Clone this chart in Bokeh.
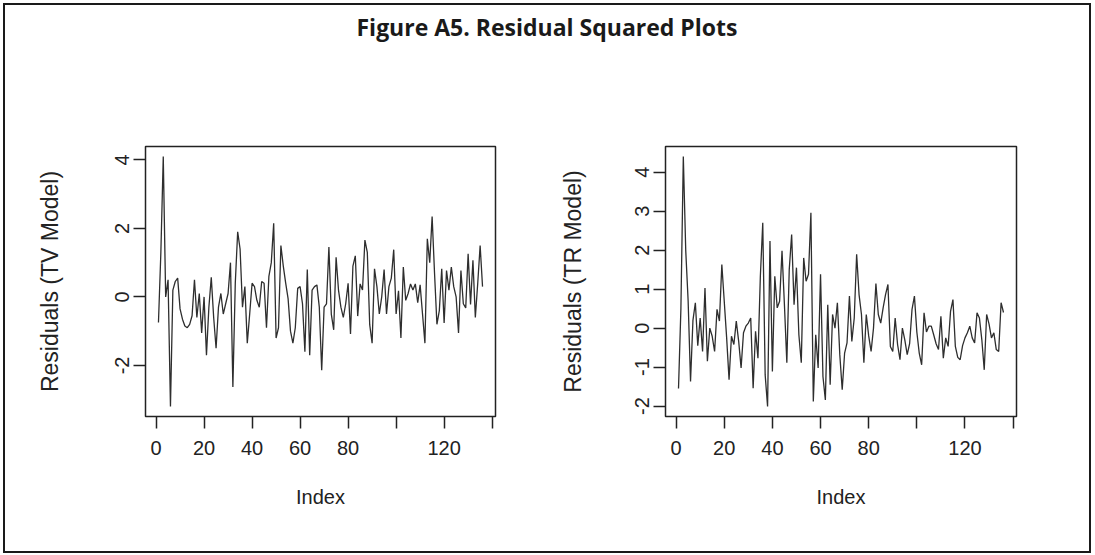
from bokeh.plotting import figure
from bokeh.layouts import column, row
from bokeh.models import Range1d, FixedTicker, Div
from bokeh.embed import file_html
from bokeh.resources import INLINE

TITLE = "Figure A5. Residual Squared Plots"

# Residuals of the time-varying (TV) model, one value per observation
TV_RESID = [
    -0.75, 1.3, 4.1, 0.0, 0.5, -3.2, 0.2, 0.45, 0.55, -0.35,
    -0.65, -0.85, -0.9, -0.8, -0.55, 0.5, -0.6, 0.1, -1.05, 0.0,
    -1.7, -0.3, 0.57, -0.6, -1.5, -0.3, 0.1, -0.5, -0.2, 0.1,
    1.0, -2.63, 0.4, 1.9, 1.4, -0.3, 0.3, -1.35, -0.5, 0.4,
    0.3, -0.1, -0.3, 0.45,
    0.4, -0.9, 0.6, 1.0, 2.15, -1.2, -0.9, 1.5, 0.9, 0.4,
    -0.05, -1.0, -1.35, -0.9, 0.25, 0.3, -0.2, -1.6, 0.8, -1.7,
    0.2, 0.3, 0.35, -0.3, -2.14, -0.3, -0.2, 1.46, -0.5, -0.96,
    1.16, 0.2, -0.3, -0.6, -0.2, 0.4, -1.08, 0.9, 1.2, -0.56,
    0.38, 0.2, 1.66, 1.3, -0.81, -1.35, 0.82,
    0.3, -0.5, 0.0, 0.8, -0.5, 0.3, 0.55, 1.38, -0.5, 0.18,
    -1.2, 0.87, -0.1, 0.1, 0.38, 0.2, 0.38, -0.17, 0.35, -0.5,
    -1.35, 1.7, 1.0, 2.35, 0.7, -0.8, -0.4, 0.82, -0.76, 0.77,
    0.2, 0.87, 0.3, 0.0, -1.05, 0.77, -0.2, -0.32, 1.26, -0.22,
    1.07, -0.6, 0.4, 1.5, 0.3,
]

# Residuals of the threshold (TR) model
TR_RESID = [
    -1.55, 0.5, 4.4, 2.0, 0.7, -1.37, 0.2, 0.65, -0.45, 0.26,
    -0.6, 1.03, -0.85, 0.0, -0.21, -0.6, 0.48, 0.18, 1.63, 0.69,
    -0.25, -1.32, -0.21, -0.42, 0.18, -0.34, -1.02, -0.12, 0.05, 0.13,
    0.26, -1.54, -0.08, -0.77, 1.33, 2.7, -1.2, -2.01, 2.23, -1.11,
    1.33, 0.52, 0.69, 1.98,
    0.6, -0.89, 1.5, 2.4, 0.6, 1.55, -0.17, -0.89, 1.8, 1.2,
    1.38, 2.96, -1.88, -0.17, -1.02, 1.38, -1.24, -1.84, 0.6, -1.45,
    0.35, 0.0, 0.65, -0.68, -1.58, -0.64, -0.38, 0.82, -0.34, 0.26,
    1.89, 0.86, 0.35, -0.89, 0.35, -0.2, -0.6, 0.0, 1.14, 0.35,
    0.13, 0.52, 0.86, 1.12, -0.47, -0.6,
    0.26, -0.42, -0.81, 0.0, -0.3, -0.68, -0.4, 0.48, 0.82, -0.1,
    -0.64, -0.94, 0.39, -0.1, 0.05, 0.05, -0.17, -0.4, -0.55, 0.3,
    -0.77, -0.25, -0.47, 0.43, 0.73, -0.47, -0.75, -0.81, -0.45, -0.25,
    -0.12, 0.05, -0.25, -0.38, 0.39, 0.26, -0.3, -1.07, 0.35, 0.1,
    -0.25, -0.12, -0.55, -0.6, 0.65, 0.4,
]

X_TICKS = [0, 20, 40, 60, 80, 100, 120, 140]
X_TICK_LABELS = ["0", "20", "40", "60", "80", "", "120", ""]
TV_Y_TICKS = [-2, 0, 2, 4]
TR_Y_TICKS = [-2, -1, 0, 1, 2, 3, 4]
X_LABEL = "Index"
TV_Y_LABEL = "Residuals (TV Model)"
TR_Y_LABEL = "Residuals (TR Model)"

INK = "#222222"
FONT = "Liberation Sans"
FONT_SIZE = "20px"

FIG_W, FIG_H = 542, 476
FRAME_TOP, FRAME_H = 71, 270


def padded(lo, hi, frac=0.04):
    span = hi - lo
    return lo - frac * span, hi + frac * span


def residual_panel(values, y_ticks, y_label, border_left, border_right, label_gap):
    idx = list(range(1, len(values) + 1))
    x0, x1 = padded(idx[0], idx[-1])
    y0, y1 = padded(min(values), max(values))
    p = figure(
        width=FIG_W, height=FIG_H,
        x_range=Range1d(x0, x1), y_range=Range1d(y0, y1),
        output_backend="svg", toolbar_location=None,
        min_border_left=border_left, min_border_right=border_right,
        min_border_top=FRAME_TOP, min_border_bottom=FIG_H - FRAME_TOP - FRAME_H,
    )
    p.line(idx, values, line_color="#2e2e2e", line_width=1.3)

    p.xgrid.visible = False
    p.ygrid.visible = False
    p.outline_line_color = INK
    p.outline_line_width = 1.5
    p.background_fill_color = "white"
    p.border_fill_color = "white"

    for ax in (p.xaxis[0], p.yaxis[0]):
        ax.axis_line_color = None
        ax.major_tick_out = 12
        ax.major_tick_in = 0
        ax.minor_tick_out = 0
        ax.minor_tick_in = 0
        ax.major_tick_line_color = INK
        ax.major_tick_line_width = 1.5
        ax.major_label_text_font = FONT
        ax.major_label_text_font_size = FONT_SIZE
        ax.major_label_text_color = INK
        ax.axis_label_text_font = FONT
        ax.axis_label_text_font_size = FONT_SIZE
        ax.axis_label_text_font_style = "normal"
        ax.axis_label_text_color = INK

    xa = p.xaxis[0]
    xa.ticker = FixedTicker(ticks=X_TICKS)
    xa.major_label_overrides = {t: s for t, s in zip(X_TICKS, X_TICK_LABELS)}
    xa.major_label_standoff = 12
    xa.axis_label = X_LABEL
    xa.axis_label_standoff = 28

    ya = p.yaxis[0]
    ya.ticker = FixedTicker(ticks=y_ticks)
    ya.major_label_overrides = {t: str(t) for t in y_ticks}
    ya.major_label_orientation = "vertical"
    ya.major_label_standoff = 4
    ya.axis_label = y_label
    ya.axis_label_text_font_size = "23px"
    ya.axis_label_standoff = label_gap
    return p


p_tv = residual_panel(TV_RESID, TV_Y_TICKS, TV_Y_LABEL, 140, 52, 50)
p_tr = residual_panel(TR_RESID, TR_Y_TICKS, TR_Y_LABEL, 118, 73, 47)

title = Div(
    text=(
        '<div style="width:1084px;text-align:center;font-family:\'Open Sans\';'
        'font-weight:bold;font-size:23px;color:#1a1a1a;padding-top:6px">'
        + TITLE + "</div>"
    ),
    width=1084, height=70, margin=0,
)

page = column(
    title, row(p_tv, p_tr),
    styles={"border": "2px solid #1a1a1a", "margin": "3px", "background": "white"},
)

open("out.html", "w").write(file_html(page, INLINE))
